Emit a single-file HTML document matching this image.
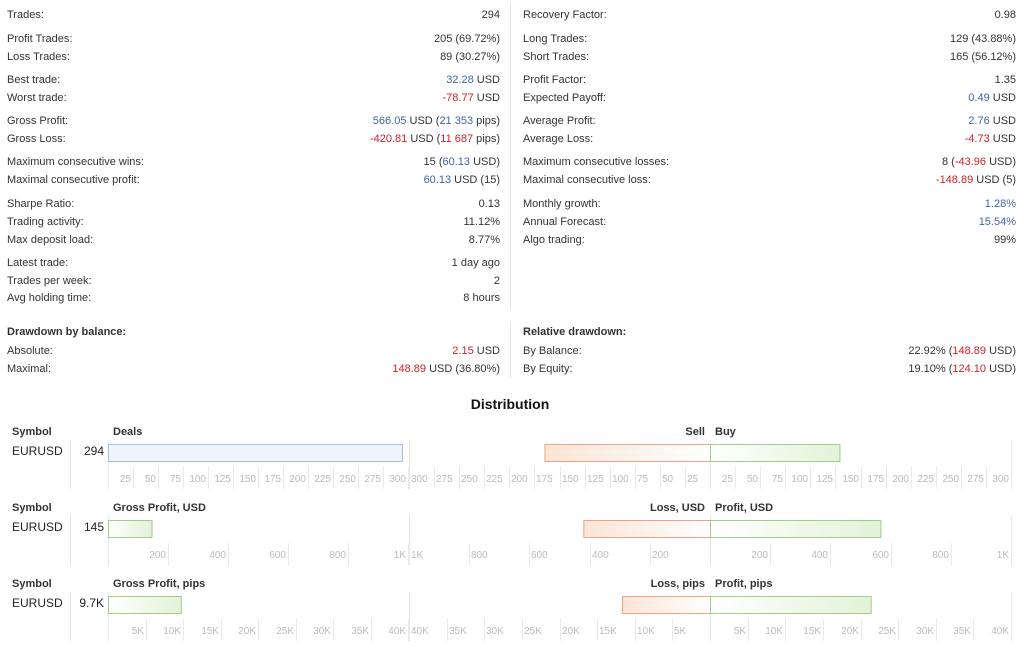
<!DOCTYPE html>
<html><head><meta charset="utf-8">
<style>
body{margin:0;width:1024px;height:649px;background:#fff;font-family:"Liberation Sans","DejaVu Sans",sans-serif;font-size:11px;color:#333;position:relative;overflow:hidden}
.r{position:absolute;height:14px;line-height:14px;white-space:nowrap}
.b{color:#3f64a5}.d{color:#d0202a}
.vl{position:absolute;width:1px;background:#e6e6e6}
svg text{font-family:"Liberation Sans","DejaVu Sans",sans-serif}
</style></head><body>
<div id="stats"></div>
<div class="vl" style="left:510px;top:4px;height:304px"></div>
<div class="vl" style="left:510px;top:322px;height:56px"></div>
<div style="position:absolute;left:0;width:1020px;top:396px;text-align:center;font-weight:bold;font-size:14px;color:#111">Distribution</div>
<svg id="dist" width="1024" height="649" style="position:absolute;left:0;top:0"></svg>
<script>
const leftLabels=["Trades:","Profit Trades:","Loss Trades:","Best trade:","Worst trade:","Gross Profit:","Gross Loss:","Maximum consecutive wins:","Maximal consecutive profit:","Sharpe Ratio:","Trading activity:","Max deposit load:","Latest trade:","Trades per week:","Avg holding time:"];
const leftValues=["294","205 (69.72%)","89 (30.27%)",'<span class="b">32.28</span> USD','<span class="d">-78.77</span> USD','<span class="b">566.05</span> USD (<span class="b">21 353</span> pips)','<span class="d">-420.81</span> USD (<span class="d">11 687</span> pips)','15 (<span class="b">60.13</span> USD)','<span class="b">60.13</span> USD (15)',"0.13","11.12%","8.77%","1 day ago","2","8 hours"];
const rightLabels=["Recovery Factor:","Long Trades:","Short Trades:","Profit Factor:","Expected Payoff:","Average Profit:","Average Loss:","Maximum consecutive losses:","Maximal consecutive loss:","Monthly growth:","Annual Forecast:","Algo trading:"];
const rightValues=["0.98","129 (43.88%)","165 (56.12%)","1.35",'<span class="b">0.49</span> USD','<span class="b">2.76</span> USD','<span class="d">-4.73</span> USD','8 (<span class="d">-43.96</span> USD)','<span class="d">-148.89</span> USD (5)','<span class="b">1.28%</span>','<span class="b">15.54%</span>',"99%"];
const rowY=[15,39,57,80,98,121,139,162,180,204,222,240,263,281,298];
const st=document.getElementById('stats');
function row(x,w,y,lab,val,bold){
  const l=document.createElement('div');l.className='r';l.style.left=x+'px';l.style.top=(y-7)+'px';l.textContent=lab;
  if(bold){l.style.fontWeight='bold';}
  
  
  st.appendChild(l);
  if(val!==null){const v=document.createElement('div');v.className='r';v.style.left=x+'px';v.style.width=w+'px';v.style.textAlign='right';v.style.top=(y-7)+'px';v.innerHTML=val;
  
  
  st.appendChild(v);}
}
leftLabels.forEach((t,i)=>row(7,493,rowY[i],t,leftValues[i]));
rightLabels.forEach((t,i)=>row(523,493,rowY[i],t,rightValues[i]));
row(7,493,332,"Drawdown by balance:",null,true);
row(7,493,351,"Absolute:",'<span class="d">2.15</span> USD');
row(7,493,369,"Maximal:",'<span class="d">148.89</span> USD (36.80%)');
row(523,493,332,"Relative drawdown:",null,true);
row(523,493,351,"By Balance:",'22.92% (<span class="d">148.89</span> USD)');
row(523,493,369,"By Equity:",'19.10% (<span class="d">124.10</span> USD)');

// Distribution data
const chartTitles=["Deals","Gross Profit, USD","Gross Profit, pips"];
const negTitles=["Sell","Loss, USD","Loss, pips"];
const posTitles=["Buy","Profit, USD","Profit, pips"];
const totals=[294,145,9700];
const totalLabels=["294","145","9.7K"];
const negValues=[165,420.81,11687];
const posValues=[129,566.05,21353];
const axisMax=[300,1000,40000];
const tickStep=[25,200,5000];
const tickLabelsFmt=[v=>String(v),v=>v>=1000?(v/1000)+'K':String(v),v=>(v/1000)+'K'];

const svg=document.getElementById('dist');const NS='http://www.w3.org/2000/svg';
function el(t,a,name){const e=document.createElementNS(NS,t);for(const k in a)e.setAttribute(k,a[k]);
  
  
  svg.appendChild(e);return e;}
function txt(x,y,s,o,name){const e=el('text',Object.assign({x:x,y:y,'font-size':11,fill:'#333'},o||{}),name);e.textContent=s;return e;}
const defs=el('defs',{},'gradients');
defs.innerHTML='<linearGradient id="gg" x1="0" x2="1"><stop offset="0" stop-color="#fff"/><stop offset="1" stop-color="#e3f2d8"/></linearGradient><linearGradient id="rg" x1="0" x2="1"><stop offset="0" stop-color="#fde4d6"/><stop offset="1" stop-color="#fff"/></linearGradient>';
const L0=108,L1=408,C=710,R1=1011;
for(let s=0;s<3;s++){
  const top=431+s*76, barY=top+13, tickY=top+36, lblY=top+51, bot=top+58;
  const xl=v=>L0+v/axisMax[s]*(L1-L0);
  const xr=v=>C+v/axisMax[s]*(R1-C);
  const xn=v=>C-v/axisMax[s]*(C-409);
  txt(12,top+4,"Symbol",{'font-weight':'bold'},'symbol-header');
  txt(12,top+24,"EURUSD",{'font-size':12,fill:'#222'},'symbol-name');
  txt(104,top+24,totalLabels[s],{'font-size':12,fill:'#222','text-anchor':'end'},'total-value');
  txt(113,top+4,chartTitles[s],{'font-weight':'bold'},'chart-title');
  txt(705,top+4,negTitles[s],{'font-weight':'bold','text-anchor':'end'},'negative-title');
  txt(715,top+4,posTitles[s],{'font-weight':'bold'},'positive-title');
  [70,L0,409,C,R1].forEach(x=>el('line',{x1:x+.5,x2:x+.5,y1:top+9,y2:bot,stroke:'#e6e6e6'},'axis-line'));
  for(let v=tickStep[s];v<=axisMax[s];v+=tickStep[s]){
    const lab=tickLabelsFmt[s](v);
    let x=Math.round(xl(v));
    el('line',{x1:x+.5,x2:x+.5,y1:tickY,y2:bot,stroke:'#e9e9e9'},'tick');
    txt(x-2,lblY,lab,{'font-size':10,fill:'#bbb','text-anchor':'end'},'tick-label');
    x=Math.round(xr(v));
    el('line',{x1:x+.5,x2:x+.5,y1:tickY,y2:bot,stroke:'#e9e9e9'},'tick');
    txt(x-2,lblY,lab,{'font-size':10,fill:'#bbb','text-anchor':'end'},'tick-label');
    x=Math.round(xn(v));
    if(x>400){el('line',{x1:x+.5,x2:x+.5,y1:tickY,y2:bot,stroke:'#e9e9e9'},'tick');
    txt(x+2,lblY,lab,{'font-size':10,fill:'#bbb'},'tick-label');}
  }
  if(s==0) el('rect',{x:L0+.5,y:barY+.5,width:xl(totals[s])-L0,height:17,fill:'#eef4fb',stroke:'#a9c3df'},'total-bar');
  else el('rect',{x:L0+.5,y:barY+.5,width:xl(totals[s])-L0,height:17,fill:'url(#gg)',stroke:'#9fcf86'},'total-bar');
  el('rect',{x:xn(negValues[s])+.5,y:barY+.5,width:C-xn(negValues[s]),height:17,fill:'url(#rg)',stroke:'#f0a182'},'negative-bar');
  el('rect',{x:C+.5,y:barY+.5,width:xr(posValues[s])-C,height:17,fill:'url(#gg)',stroke:'#9fcf86'},'positive-bar');
}
</script>
</body></html>
